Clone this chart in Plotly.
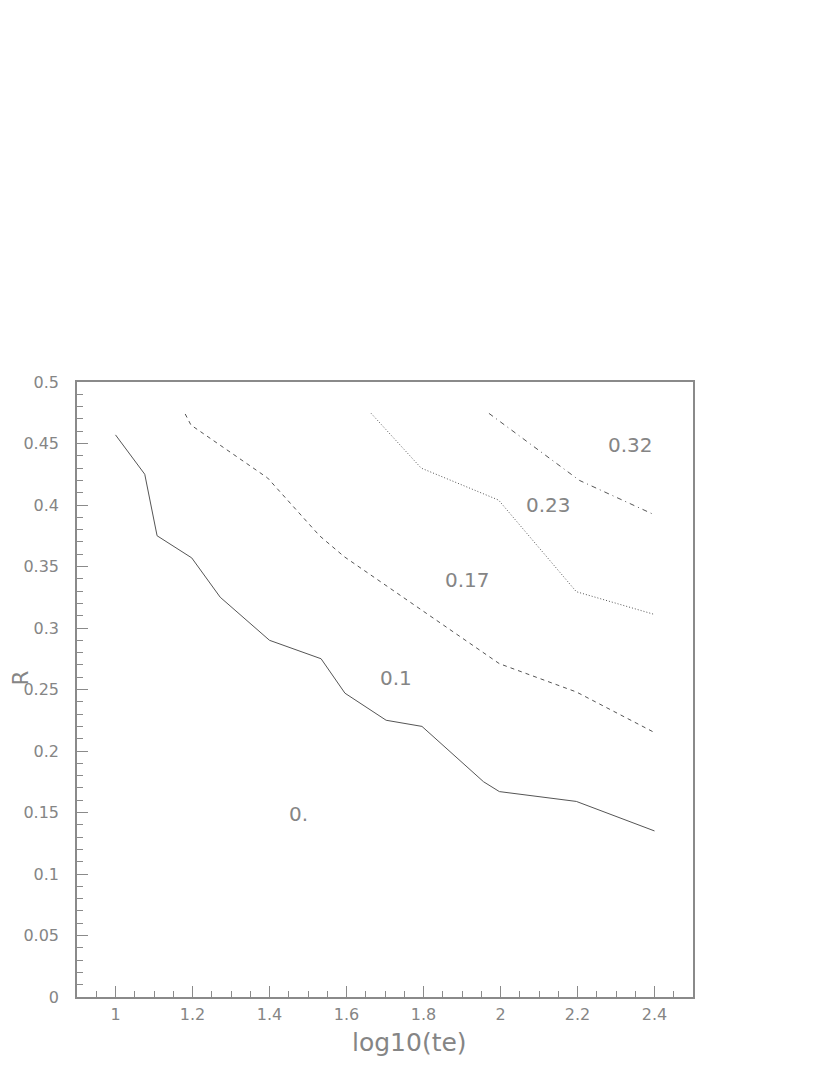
import plotly.graph_objects as go

# contour lines (log10(te), R)
solid_x = [1.0, 1.076, 1.108, 1.198, 1.272, 1.40, 1.534, 1.596, 1.703, 1.796, 1.956, 1.997, 2.197, 2.40]
solid_y = [0.457, 0.425, 0.375, 0.357, 0.325, 0.290, 0.275, 0.247, 0.225, 0.220, 0.175, 0.167, 0.159, 0.135]

dash_x = [1.181, 1.196, 1.395, 1.53, 1.594, 1.789, 1.997, 2.197, 2.40]
dash_y = [0.474, 0.465, 0.422, 0.375, 0.358, 0.316, 0.271, 0.248, 0.215]

dot_x = [1.664, 1.794, 1.995, 2.197, 2.40]
dot_y = [0.4745, 0.430, 0.404, 0.3295, 0.311]

dashdot_x = [1.970, 2.205, 2.40]
dashdot_y = [0.4745, 0.420, 0.392]

# region labels
label_text = ["0.32", "0.23", "0.17", "0.1", "0."]
label_x = [2.338, 2.125, 1.913, 1.729, 1.475]
label_y = [0.449, 0.400, 0.339, 0.259, 0.149]

x_tickvals = [1, 1.2, 1.4, 1.6, 1.8, 2, 2.2, 2.4]
x_ticktext = ["1", "1.2", "1.4", "1.6", "1.8", "2", "2.2", "2.4"]
y_tickvals = [0, 0.05, 0.1, 0.15, 0.2, 0.25, 0.3, 0.35, 0.4, 0.45, 0.5]
y_ticktext = ["0", "0.05", "0.1", "0.15", "0.2", "0.25", "0.3", "0.35", "0.4", "0.45", "0.5"]

LINE = "#555555"
AX = "#8a8a8a"
TXT = "#858585"
FONT = "DejaVu Sans"

fig = go.Figure()
for xs, ys, dash in [(solid_x, solid_y, "solid"),
                     (dash_x, dash_y, "4px,4px"),
                     (dot_x, dot_y, "1px,2px"),
                     (dashdot_x, dashdot_y, "5px,4px,1px,4px")]:
    fig.add_trace(go.Scatter(x=xs, y=ys, mode="lines",
                             line=dict(color=LINE, width=1, dash=dash),
                             showlegend=False, hoverinfo="skip"))

for t, x, y in zip(label_text, label_x, label_y):
    fig.add_annotation(x=x, y=y, text=t, showarrow=False,
                       xanchor="center", yanchor="middle",
                       font=dict(family=FONT, size=20, color=TXT))

fig.add_annotation(xref="paper", yref="paper", x=0.540, y=-0.074,
                   text="log10(te)", showarrow=False,
                   xanchor="center", yanchor="middle",
                   font=dict(family=FONT, size=25, color=TXT))
fig.add_annotation(xref="paper", yref="paper", x=-0.092, y=0.519,
                   text="R", showarrow=False, textangle=-90,
                   xanchor="center", yanchor="middle",
                   font=dict(family=FONT, size=21, color=TXT))

fig.update_xaxes(range=[0.9, 2.5], tickmode="array",
                 tickvals=x_tickvals, ticktext=x_ticktext,
                 ticks="inside", ticklen=11, tickcolor=AX, tickwidth=1,
                 minor=dict(dtick=0.05, tick0=0.9, ticks="inside", ticklen=6, tickcolor=AX),
                 showline=True, linecolor=AX, linewidth=1.5, mirror=True,
                 showgrid=False, zeroline=False, ticklabelstandoff=2,
                 tickfont=dict(family=FONT, size=16, color=TXT))
fig.update_yaxes(range=[0, 0.5], tickmode="array",
                 tickvals=y_tickvals, ticktext=y_ticktext,
                 ticks="inside", ticklen=11, tickcolor=AX, tickwidth=1,
                 minor=dict(dtick=0.01, tick0=0, ticks="inside", ticklen=6, tickcolor=AX),
                 showline=True, linecolor=AX, linewidth=1.5, mirror=True,
                 showgrid=False, zeroline=False, ticklabelstandoff=13,
                 tickfont=dict(family=FONT, size=16, color=TXT))

fig.update_layout(width=822, height=1067,
                  margin=dict(l=69, r=137, t=374, b=78),
                  paper_bgcolor="white", plot_bgcolor="white",
                  showlegend=False)

fig.write_html("out.html")
